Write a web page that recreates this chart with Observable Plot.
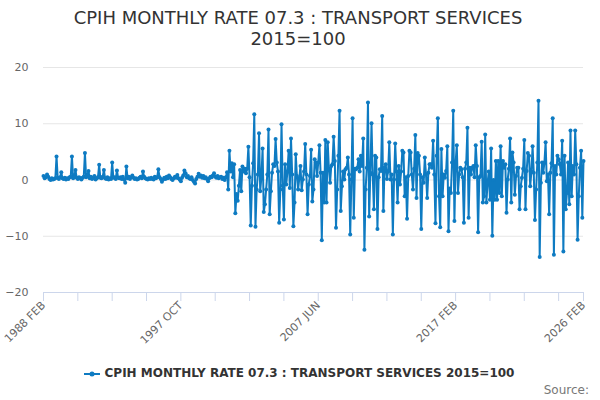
<!DOCTYPE html>
<html>
<head>
<meta charset="utf-8">
<script src="https://cdn.jsdelivr.net/npm/d3@7"></script>
<script src="https://cdn.jsdelivr.net/npm/@observablehq/plot@0.6"></script>
<style>
  html, body { margin: 0; padding: 0; background: #fff; }
  body { width: 600px; height: 400px; position: relative; overflow: hidden; font-family: "DejaVu Sans", sans-serif; }
  #title { position: absolute; left: 0; top: 7px; width: 596px; text-align: center; font-size: 18px; line-height: 21px; color: #333; }
  #chart { position: absolute; left: 0; top: 50px; }
  #legend { position: absolute; left: 0; top: 366px; width: 598px; display: flex; justify-content: center; align-items: center; font-size: 12px; font-weight: bold; color: #333; line-height: 15px; }
  #legend svg { margin-right: 5px; }
  #source { position: absolute; right: 11px; top: 383px; font-size: 12px; color: #777; line-height: 15px; }
</style>
</head>
<body>
<div id="title">CPIH MONTHLY RATE 07.3 : TRANSPORT SERVICES<br>2015=100</div>
<div id="chart"></div>
<div id="legend"></div>
<div id="source">Source:</div>
<script>
const seriesName = "CPIH MONTHLY RATE 07.3 : TRANSPORT SERVICES 2015=100";
const lineColor = "#0e7bc2";

// Monthly rate, 1988 FEB onward (index 0 = 1988 FEB)
const ratesA = [
  0.7, 0.3, 0.5, 1.0, 0.6, 0.2, 0.0, 0.3, 0.1, 0.2,
  0.3, 4.2, 0.4, 0.2, 0.5, 1.4, 0.3, 0.2, 0.4, 0.1,
  0.3, 0.2, 0.5, 0.6, 4.2, 0.3, 0.5, 1.8, 0.4, 0.2,
  0.5, 0.3, 0.1, 0.4, 0.6, 4.8, 0.5, 0.8, 1.6, 0.3,
  0.6, 0.2, 0.4, 0.7, 0.1, 0.3, 0.5, 2.7, 0.4, 0.3,
  0.6, 1.8, 0.3, 0.2, 0.5, 0.1, 0.3, 0.2, 3.1, 0.4,
  0.5, 0.2, 1.7, 0.4, 0.3, 0.5, 0.2, 0.6, 0.1, -0.5,
  2.4, 0.3, 0.6, 0.2, 0.5, 0.8, 0.4, 0.2, 0.3, 0.1,
  0.2, 0.4, 0.6, 0.3, 1.5, 0.6, 0.3, 0.2, 0.1, 0.3,
  0.2, 0.4, 0.2, 0.1, 0.6, 0.3, 0.5, 1.9, 0.5, 0.2
];
const ratesB = [
  -0.3, 0.1, 0.4, 0.2, 0.6, 0.3, 0.8, 0.5, 0.2, 0.0,
  0.3, 0.6, 0.4, 0.9, 0.3, 0.1, -0.2, 0.4, 0.8, 1.7,
  1.2, 0.5, 0.7, 0.3, 0.2, 0.5, 0.0, -0.3, -0.6, 0.2,
  0.6, 1.1, 0.6, 0.8, 0.4, 0.7, 0.3, 0.5, 0.2, -0.2,
  0.3, 0.6, 0.5, 0.8, 1.2, 0.6, 0.4, 0.7, 0.3, 0.5,
  0.6, 0.2, 0.4, 0.0, 0.5, 1.4, -1.7, 5.2, 1.5, 3.0,
  0.5, 2.8, -5.9, -2.5, -3.7, -1.0, 1.8, -2.0, 2.4, 1.5,
  2.0, 1.2, 2.0, 5.9, 0.5, -8.1, -1.0, 3.0, 11.7, -8.3,
  -1.7, 1.0, 8.3, -2.0, 0.5, 5.6, -5.7, -4.3, -1.7, 1.0,
  9.0, -6.1, -2.0, 1.3, 2.8, 2.5, 7.3, 3.1, 1.5, -7.6
];
const ratesC = [
  -1.7, 9.9, -1.0, -7.0, 2.8, -0.8, 1.5, 5.2, -1.4, 7.4,
  1.0, -8.2, -4.0, 4.6, 0.7, -1.7, 0.3, 2.5, -1.8, 0.1,
  1.5, 6.4, 1.0, -6.1, -0.8, 0.7, 5.4, -3.8, -1.7, 3.7,
  3.1, 0.7, 3.1, 6.2, 1.3, -10.7, 1.3, -4.0, 7.1, -4.0,
  6.7, 2.0, -0.5, 2.5, 2.8, 7.7, 3.4, -8.5, -1.7, 4.3,
  12.3, -5.5, -1.1, 1.5, 0.1, 1.9, 2.2, 4.0, 1.0, -9.7,
  0.1, 11.0, -6.7, 2.0, 1.9, 2.2, 3.7, 1.5, 4.3, 2.5,
  7.4, -12.4, -1.7, 2.2, 13.8, -6.5, 1.3, 10.1, 1.0, -5.2,
  4.3, 4.0, -8.7, 0.5, 1.9, 1.6, 11.4, -5.5, 2.2, 2.8,
  0.2, 1.5, 6.7, 0.1, 1.0, -9.7, 0.1, 6.5, 1.5, -4.0
];
const ratesD = [
  2.5, -0.8, 1.5, 5.2, 4.9, -2.9, 0.5, -6.9, 0.7, 5.2,
  4.9, 1.0, -1.7, 2.0, 8.0, -3.2, 4.8, 4.3, 1.0, -8.7,
  0.5, -0.5, 4.0, 1.0, -3.2, 1.3, 2.8, 2.8, 2.2, 7.0,
  1.0, -7.7, 4.3, 11.0, -2.9, -8.4, 5.5, -2.9, 1.0, 0.4,
  1.6, 6.0, -9.1, -1.5, -2.3, 3.1, 12.3, -7.3, 3.1, 6.2,
  -2.3, 1.0, 2.2, 1.9, 0.5, -7.6, 2.0, 3.1, 9.3, -6.7,
  2.2, 1.0, 2.2, 2.5, 0.5, 6.2, 2.5, -9.3, 0.5, 0.7,
  6.8, -4.0, -2.9, 8.1, -4.0, -0.5, 1.5, -3.5, 5.6, -9.9,
  0.0, -3.5, 3.4, -3.5, 3.4, -2.3, 6.0, -2.9, 3.4, 2.2,
  2.8, -5.8, 0.1, 2.0, 7.4, -4.0, 4.9, 3.1, -2.6, 0.7
];
const ratesE = [
  2.2, 2.2, -5.2, -1.1, 0.4, 2.0, 7.1, -5.2, 1.6, 4.8,
  4.3, -1.1, 1.5, 6.0, 1.3, -7.1, -1.7, 3.1, 14.1, -13.7,
  -0.5, 3.1, 1.3, 3.1, 6.7, -0.2, 1.0, -6.1, 1.3, 3.0,
  11.0, -13.3, 2.5, 1.0, 4.3, 3.7, 2.8, 1.0, 7.0, -12.7,
  4.3, -5.2, -2.3, 3.1, -4.3, 8.8, -2.9, 2.5, 1.0, 8.8,
  2.8, -10.6, -2.9, 2.2, 5.2, -6.7, 3.4
];

const tickLabels = ["1988 FEB", "1997 OCT", "2007 JUN", "2017 FEB", "2026 FEB"];
const labelIndex = [0, 116, 232, 348, 456];
const minorTickIndex = [0, 29, 58, 87, 116, 145, 174, 203, 232, 261, 290, 319, 348, 377, 406, 435, 456];
const yTicks = [-20, -10, 0, 10, 20];

const rates = [...ratesA, ...ratesB, ...ratesC, ...ratesD, ...ratesE];
const data = rates.map((v, i) => ({i, v}));
const labelOf = new Map(labelIndex.map((k, j) => [k, tickLabels[j]]));

const chart = Plot.plot({
  width: 600,
  height: 305,
  marginLeft: 43,
  marginRight: 17,
  marginTop: 17,
  marginBottom: 63,
  style: {fontFamily: "DejaVu Sans, sans-serif", fontSize: "11px", color: "#666", background: "#fff", overflow: "visible"},
  x: {domain: [0, rates.length - 1], label: null},
  y: {domain: [-20, 20], label: null},
  marks: [
    Plot.ruleY(yTicks.filter(t => t !== -20), {stroke: "#e6e6e6", strokeWidth: 1}),
    Plot.ruleY([-20], {stroke: "#ccd6eb", strokeWidth: 1}),
    Plot.axisX({ticks: minorTickIndex, tickSize: 9, stroke: "#ccd6eb", tickFormat: () => "", label: null}),
    Plot.axisX({ticks: labelIndex, tickSize: 0, tickPadding: 11, tickRotate: -45, tickFormat: d => labelOf.get(d), fill: "#666", label: null}),
    Plot.axisY({ticks: yTicks, tickSize: 0, tickPadding: 15, fill: "#666", label: null}),
    Plot.line(data, {x: "i", y: "v", stroke: lineColor, strokeWidth: 2, strokeLinejoin: "round"}),
    Plot.dot(data, {x: "i", y: "v", r: 2, fill: lineColor, stroke: "none"})
  ]
});
document.getElementById("chart").appendChild(chart);

// legend
const legend = document.getElementById("legend");
const sw = d3.create("svg").attr("width", 16).attr("height", 10);
sw.append("line").attr("x1", 0).attr("x2", 16).attr("y1", 5).attr("y2", 5).attr("stroke", lineColor).attr("stroke-width", 2);
sw.append("circle").attr("cx", 8).attr("cy", 5).attr("r", 2.5).attr("fill", lineColor);
legend.appendChild(sw.node());
const lt = document.createElement("span");
lt.textContent = seriesName;
legend.appendChild(lt);
</script>
</body>
</html>
